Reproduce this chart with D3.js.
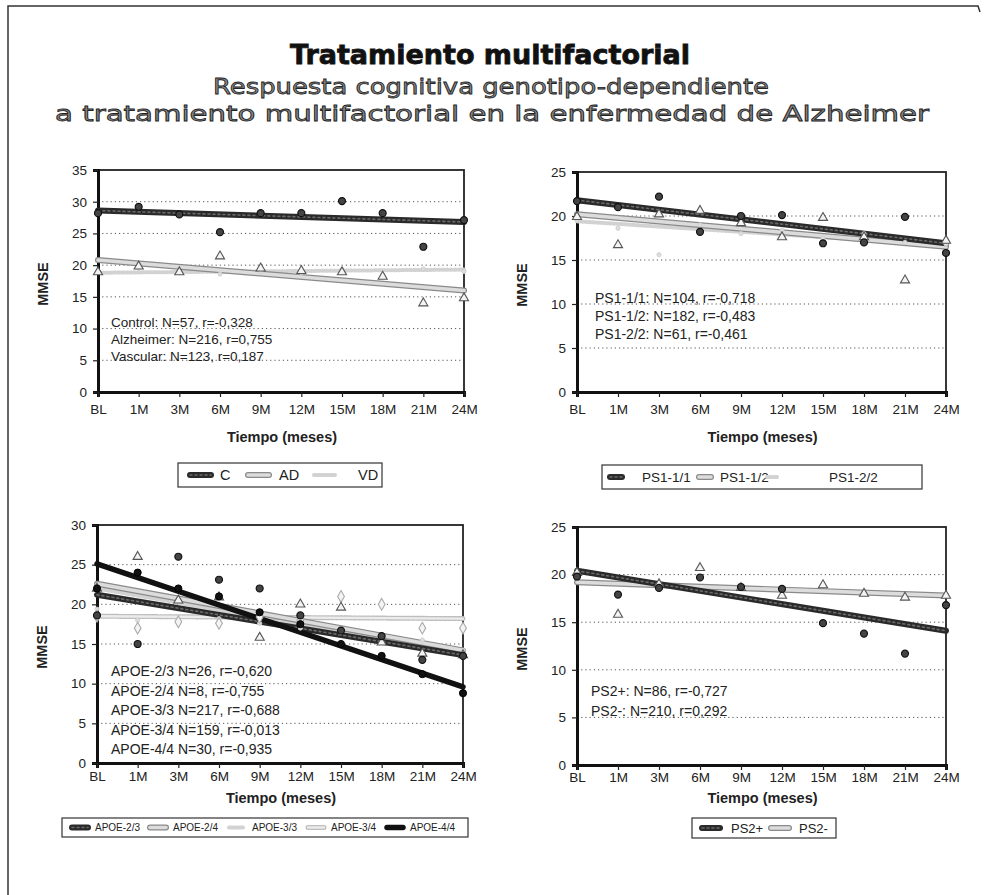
<!DOCTYPE html>
<html>
<head>
<meta charset="utf-8">
<script src="https://cdn.jsdelivr.net/npm/d3@7"></script>
<style>
body { margin: 0; background: #fff; }
text { font-family: "Liberation Sans", Arial, sans-serif; }
</style>
</head>
<body>
<svg id="chart" width="984" height="895"></svg>
<script>
// ---- data ----
const months = ['BL', '1M', '3M', '6M', '9M', '12M', '15M', '18M', '21M', '24M'];

// panel A: diagnostic groups
const ticksA = [0, 5, 10, 15, 20, 25, 30, 35];
const ptsC  = [28.2, 29.2, 28.0, 25.2, 28.2, 28.2, 30.1, 28.2, 22.9, 27.1];
const ptsAD = [18.9, 19.8, 18.9, 21.4, 19.5, 19.1, 18.9, 18.2, 14.0, 14.8];
const ptsVD = [19.0, 19.5, 19.0, 18.6, 19.0, 18.8, 19.3, 18.5, 19.4, 19.0];
const fitC  = [28.6, 26.8];
const fitAD = [20.8, 16.0];
const fitVD = [18.8, 19.3];
const notesA = ['Control: N=57, r=-0,328', 'Alzheimer: N=216, r=0,755', 'Vascular: N=123, r=0,187'];

// panel B: PS1
const ticksB = [0, 5, 10, 15, 20, 25];
const ptsPS11 = [21.7, 21.0, 22.2, 18.2, 20.0, 20.1, 16.9, 17.0, 19.9, 15.8];
const ptsPS12 = [19.9, 16.7, 20.2, 20.6, 19.2, 17.6, 19.8, 17.6, 12.7, 17.2];
const ptsPS22 = [19.5, 18.6, 15.6, 19.0, 18.0, 18.4, 17.5, 18.0, 17.0, 16.8];
const fitPS11 = [21.8, 16.9];
const fitPS12 = [20.2, 16.5];
const fitPS22 = [19.4, 16.7];
const notesB = ['PS1-1/1: N=104, r=-0,718', 'PS1-1/2: N=182, r=-0,483', 'PS1-2/2: N=61, r=-0,461'];

// panel C: APOE
const ticksC = [0, 5, 10, 15, 20, 25, 30];
const ptsE23 = [18.6, 15.0, 26.0, 23.1, 22.0, 18.6, 16.7, 16.0, 13.0, 13.5];
const ptsE24 = [22.0, 26.0, 20.5, 20.9, 15.8, 20.0, 19.6, 15.2, 13.8, 13.6];
const ptsE33 = [19.4, 18.0, 17.8, 18.2, 17.6, 17.0, 16.5, 16.0, 15.5, 14.2];
const ptsE34 = [18.5, 17.0, 17.8, 17.6, 18.4, 18.0, 21.0, 20.0, 17.0, 17.0];
const ptsE44 = [22.0, 24.0, 22.0, 21.0, 19.0, 17.5, 15.0, 13.5, 11.2, 8.8];
const fitE23 = [21.2, 13.6];
const fitE24 = [22.6, 14.2];
const fitE33 = [22.0, 13.9];
const fitE34 = [18.5, 18.2];
const fitE44 = [25.1, 9.6];
const notesC = ['APOE-2/3 N=26, r=-0,620', 'APOE-2/4 N=8, r=-0,755', 'APOE-3/3 N=217, r=-0,688',
                'APOE-3/4 N=159, r=-0,013', 'APOE-4/4 N=30, r=-0,935'];

// panel D: PS2
const ticksD = [0, 5, 10, 15, 20, 25];
const ptsPS2p = [19.8, 17.9, 18.6, 19.7, 18.7, 18.5, 14.9, 13.8, 11.7, 16.8];
const ptsPS2m = [20.2, 15.8, 19.0, 20.7, 18.6, 17.8, 18.9, 18.0, 17.6, 17.8];
const fitPS2p = [20.4, 14.1];
const fitPS2m = [19.2, 17.8];
const notesD = ['PS2+: N=86, r=-0,727', 'PS2-: N=210, r=0,292'];

// ---- styles ----
const lineStyles = {
  dark:  [{ c: '#2a2a2a', w: 6 }, { c: '#6a6a6a', w: 1.6, d: '2,3' }],
  light: [{ c: '#8a8a8a', w: 6 }, { c: '#dcdcdc', w: 3.6 }],
  faint: [{ c: '#d2d2d2', w: 4, d: '2,2' }],
  ldot:  [{ c: '#bdbdbd', w: 5, d: '3,1.5' }, { c: '#ececec', w: 2.4 }],
  black: [{ c: '#111', w: 5.5 }]
};
const markerStyles = {
  circle:  { t: d3.symbolCircle,   s: 38, fill: '#444', stroke: '#111', sw: 1.2 },
  tri:     { t: d3.symbolTriangle, s: 36, fill: '#f4f4f4', stroke: '#555', sw: 1.1 },
  faint:   { t: d3.symbolCircle,   s: 14, fill: '#ddd', stroke: '#ccc', sw: 0.8 },
  diamond: { t: d3.symbolDiamond,  s: 40, fill: '#f4f4f4', stroke: '#aaa', sw: 1.1 },
  blk:     { t: d3.symbolCircle,   s: 40, fill: '#111', stroke: '#000', sw: 1 }
};

const panels = [
  { x0: 98, x1: 464, y0: 170, y1: 392, ticks: ticksA, tickPad: 7, titleDy: 50,
    notesX: 111, notesY: 327, notesDy: 17, notes: notesA, noteSize: 13.5,
    series: [
      { pts: ptsVD, fit: fitVD, line: 'faint', mk: 'faint' },
      { pts: ptsAD, fit: fitAD, line: 'light', mk: 'tri' },
      { pts: ptsC, fit: fitC, line: 'dark', mk: 'circle' }
    ],
    legend: { x: 178, y: 463, w: 204, h: 24, size: 14.5, sym: 27,
      items: [{ name: 'C', line: 'dark', x: 187, tx: 220 }, { name: 'AD', line: 'light', x: 245, tx: 279 },
              { name: 'VD', line: 'faint', x: 311, tx: 358 }] } },
  { x0: 577, x1: 946, y0: 172, y1: 392, ticks: ticksB, tickPad: 7, titleDy: 50,
    notesX: 595, notesY: 303, notesDy: 18, notes: notesB, noteSize: 14,
    series: [
      { pts: ptsPS22, fit: fitPS22, line: 'faint', mk: 'faint' },
      { pts: ptsPS12, fit: fitPS12, line: 'light', mk: 'tri' },
      { pts: ptsPS11, fit: fitPS11, line: 'dark', mk: 'circle' }
    ],
    legend: { x: 602, y: 465, w: 320, h: 24, size: 13.5, sym: 18,
      items: [{ name: 'PS1-1/1', line: 'dark', x: 607, tx: 642 }, { name: 'PS1-1/2', line: 'light', x: 696, tx: 720 },
              { name: 'PS1-2/2', line: 'faint', x: 764, tx: 829 }] } },
  { x0: 97, x1: 463, y0: 525, y1: 763, ticks: ticksC, tickPad: 3, titleDy: 40,
    notesX: 111, notesY: 676, notesDy: 19.5, notes: notesC, noteSize: 14,
    series: [
      { pts: ptsE33, fit: fitE33, line: 'faint', mk: 'faint' },
      { pts: ptsE34, fit: fitE34, line: 'ldot', mk: 'diamond' },
      { pts: ptsE24, fit: fitE24, line: 'light', mk: 'tri' },
      { pts: ptsE23, fit: fitE23, line: 'dark', mk: 'circle' },
      { pts: ptsE44, fit: fitE44, line: 'black', mk: 'blk' }
    ],
    legend: { x: 62, y: 818, w: 406, h: 19, size: 10, sym: 22,
      items: [{ name: 'APOE-2/3', line: 'dark', x: 69, tx: 95 }, { name: 'APOE-2/4', line: 'light', x: 147, tx: 173 },
              { name: 'APOE-3/3', line: 'faint', x: 226, tx: 252 }, { name: 'APOE-3/4', line: 'ldot', x: 305, tx: 331 },
              { name: 'APOE-4/4', line: 'black', x: 384, tx: 410 }] } },
  { x0: 577, x1: 946, y0: 527, y1: 765, ticks: ticksD, tickPad: 2, titleDy: 38,
    notesX: 591, notesY: 696, notesDy: 20, notes: notesD, noteSize: 14,
    series: [
      { pts: ptsPS2m, fit: fitPS2m, line: 'light', mk: 'tri' },
      { pts: ptsPS2p, fit: fitPS2p, line: 'dark', mk: 'circle' }
    ],
    legend: { x: 692, y: 818, w: 144, h: 20, size: 13, sym: 24,
      items: [{ name: 'PS2+', line: 'dark', x: 699, tx: 731 }, { name: 'PS2-', line: 'light', x: 768, tx: 799 }] } }
];

const svg = d3.select('#chart');

// outer frame
svg.append('path')
  .attr('d', 'M8,895 L8,6 L978,6 L980,12')
  .attr('fill', 'none').attr('stroke', '#333').attr('stroke-width', 1.5);

// titles
svg.append('text').attr('x', 490).attr('y', 64).attr('text-anchor', 'middle')
  .style('font-family', '"DejaVu Sans", sans-serif').style('font-weight', 900).style('font-size', '27px')
  .attr('textLength', 400).attr('lengthAdjust', 'spacingAndGlyphs')
  .attr('fill', '#111').attr('stroke', '#111').attr('stroke-width', 0.8)
  .text('Tratamiento multifactorial');
svg.append('text').attr('x', 491).attr('y', 94).attr('text-anchor', 'middle')
  .style('font-family', '"DejaVu Sans", sans-serif').style('font-size', '22px')
  .attr('textLength', 556).attr('lengthAdjust', 'spacingAndGlyphs')
  .attr('fill', '#8a8a8a').attr('stroke', '#222').attr('stroke-width', 0.8)
  .text('Respuesta cognitiva genotipo-dependiente');
svg.append('text').attr('x', 492).attr('y', 121).attr('text-anchor', 'middle')
  .style('font-family', '"DejaVu Sans", sans-serif').style('font-size', '22px')
  .attr('textLength', 874).attr('lengthAdjust', 'spacingAndGlyphs')
  .attr('fill', '#8a8a8a').attr('stroke', '#222').attr('stroke-width', 0.8)
  .text('a tratamiento multifactorial en la enfermedad de Alzheimer');

function drawLine(g, pts, style) {
  lineStyles[style].forEach(function (s) {
    g.append('path')
      .attr('d', d3.line()(pts))
      .attr('fill', 'none')
      .attr('stroke', s.c)
      .attr('stroke-width', s.w)
      .attr('stroke-linecap', 'round')
      .attr('stroke-dasharray', s.d || null);
  });
}

panels.forEach(function (p) {
  const g = svg.append('g');
  const x = d3.scalePoint().domain(months).range([p.x0, p.x1]).padding(0);
  const y = d3.scaleLinear().domain([0, d3.max(p.ticks)]).range([p.y1, p.y0]);

  // gridlines
  g.append('g').selectAll('line')
    .data(p.ticks.filter(t => t > 0 && t < d3.max(p.ticks)))
    .join('line')
    .attr('x1', p.x0).attr('x2', p.x1)
    .attr('y1', d => y(d)).attr('y2', d => y(d))
    .attr('stroke', '#555').attr('stroke-width', 1).attr('stroke-dasharray', '1.2,3');

  // frame
  g.append('rect')
    .attr('x', p.x0).attr('y', p.y0)
    .attr('width', p.x1 - p.x0).attr('height', p.y1 - p.y0)
    .attr('fill', 'none').attr('stroke', '#222').attr('stroke-width', 1.8);

  // axes
  const ya = g.append('g').attr('transform', 'translate(' + p.x0 + ',0)')
    .call(d3.axisLeft(y).tickValues(p.ticks).tickSize(5).tickPadding(6));
  const xa = g.append('g').attr('transform', 'translate(0,' + p.y1 + ')')
    .call(d3.axisBottom(x).tickSize(5).tickPadding(p.tickPad));
  [ya, xa].forEach(function (a) {
    a.select('.domain').attr('stroke', '#111').attr('stroke-width', 3);
    a.selectAll('.tick line').attr('stroke', '#222').attr('stroke-width', 1.2);
    a.selectAll('.tick text').style('font-size', '13.5px').style('font-family', '"Liberation Sans", Arial, sans-serif').attr('fill', '#222');
  });

  // axis titles
  g.append('text')
    .attr('x', (p.x0 + p.x1) / 2 + 1).attr('y', p.y1 + p.titleDy)
    .attr('text-anchor', 'middle').style('font-weight', 'bold').style('font-size', '14.5px').attr('fill', '#222')
    .text('Tiempo (meses)');
  g.append('text')
    .attr('transform', 'translate(' + (p.x0 - 50) + ',' + ((p.y0 + p.y1) / 2 + 3) + ') rotate(-90)')
    .attr('text-anchor', 'middle').style('font-weight', 'bold').style('font-size', '14.5px').attr('fill', '#222')
    .text('MMSE');

  // trend lines
  p.series.forEach(function (s) {
    drawLine(g, [[x(months[0]), y(s.fit[0])], [x(months[months.length - 1]), y(s.fit[1])]], s.line);
  });

  // markers
  p.series.forEach(function (s) {
    const m = markerStyles[s.mk];
    g.append('g').selectAll('path')
      .data(s.pts)
      .join('path')
      .attr('transform', (d, i) => 'translate(' + x(months[i]) + ',' + y(d) + ')')
      .attr('d', d3.symbol(m.t, m.s))
      .attr('fill', m.fill).attr('stroke', m.stroke).attr('stroke-width', m.sw);
  });

  // notes
  g.append('g').selectAll('text')
    .data(p.notes)
    .join('text')
    .attr('x', p.notesX)
    .attr('y', (d, i) => p.notesY + i * p.notesDy)
    .style('font-size', p.noteSize + 'px').attr('fill', '#222')
    .text(d => d);

  // legend
  const L = p.legend;
  const lg = g.append('g');
  lg.append('rect').attr('x', L.x).attr('y', L.y).attr('width', L.w).attr('height', L.h)
    .attr('fill', '#fff').attr('stroke', '#333').attr('stroke-width', 1.2);
  L.items.forEach(function (it) {
    const cy = L.y + L.h / 2;
    drawLine(lg, [[it.x + 3, cy], [it.x + L.sym - 3, cy]], it.line);
    lg.append('text').attr('x', it.tx).attr('y', cy + L.size * 0.36)
      .style('font-size', L.size + 'px').attr('fill', '#222').text(it.name);
  });
});
</script>
</body>
</html>
